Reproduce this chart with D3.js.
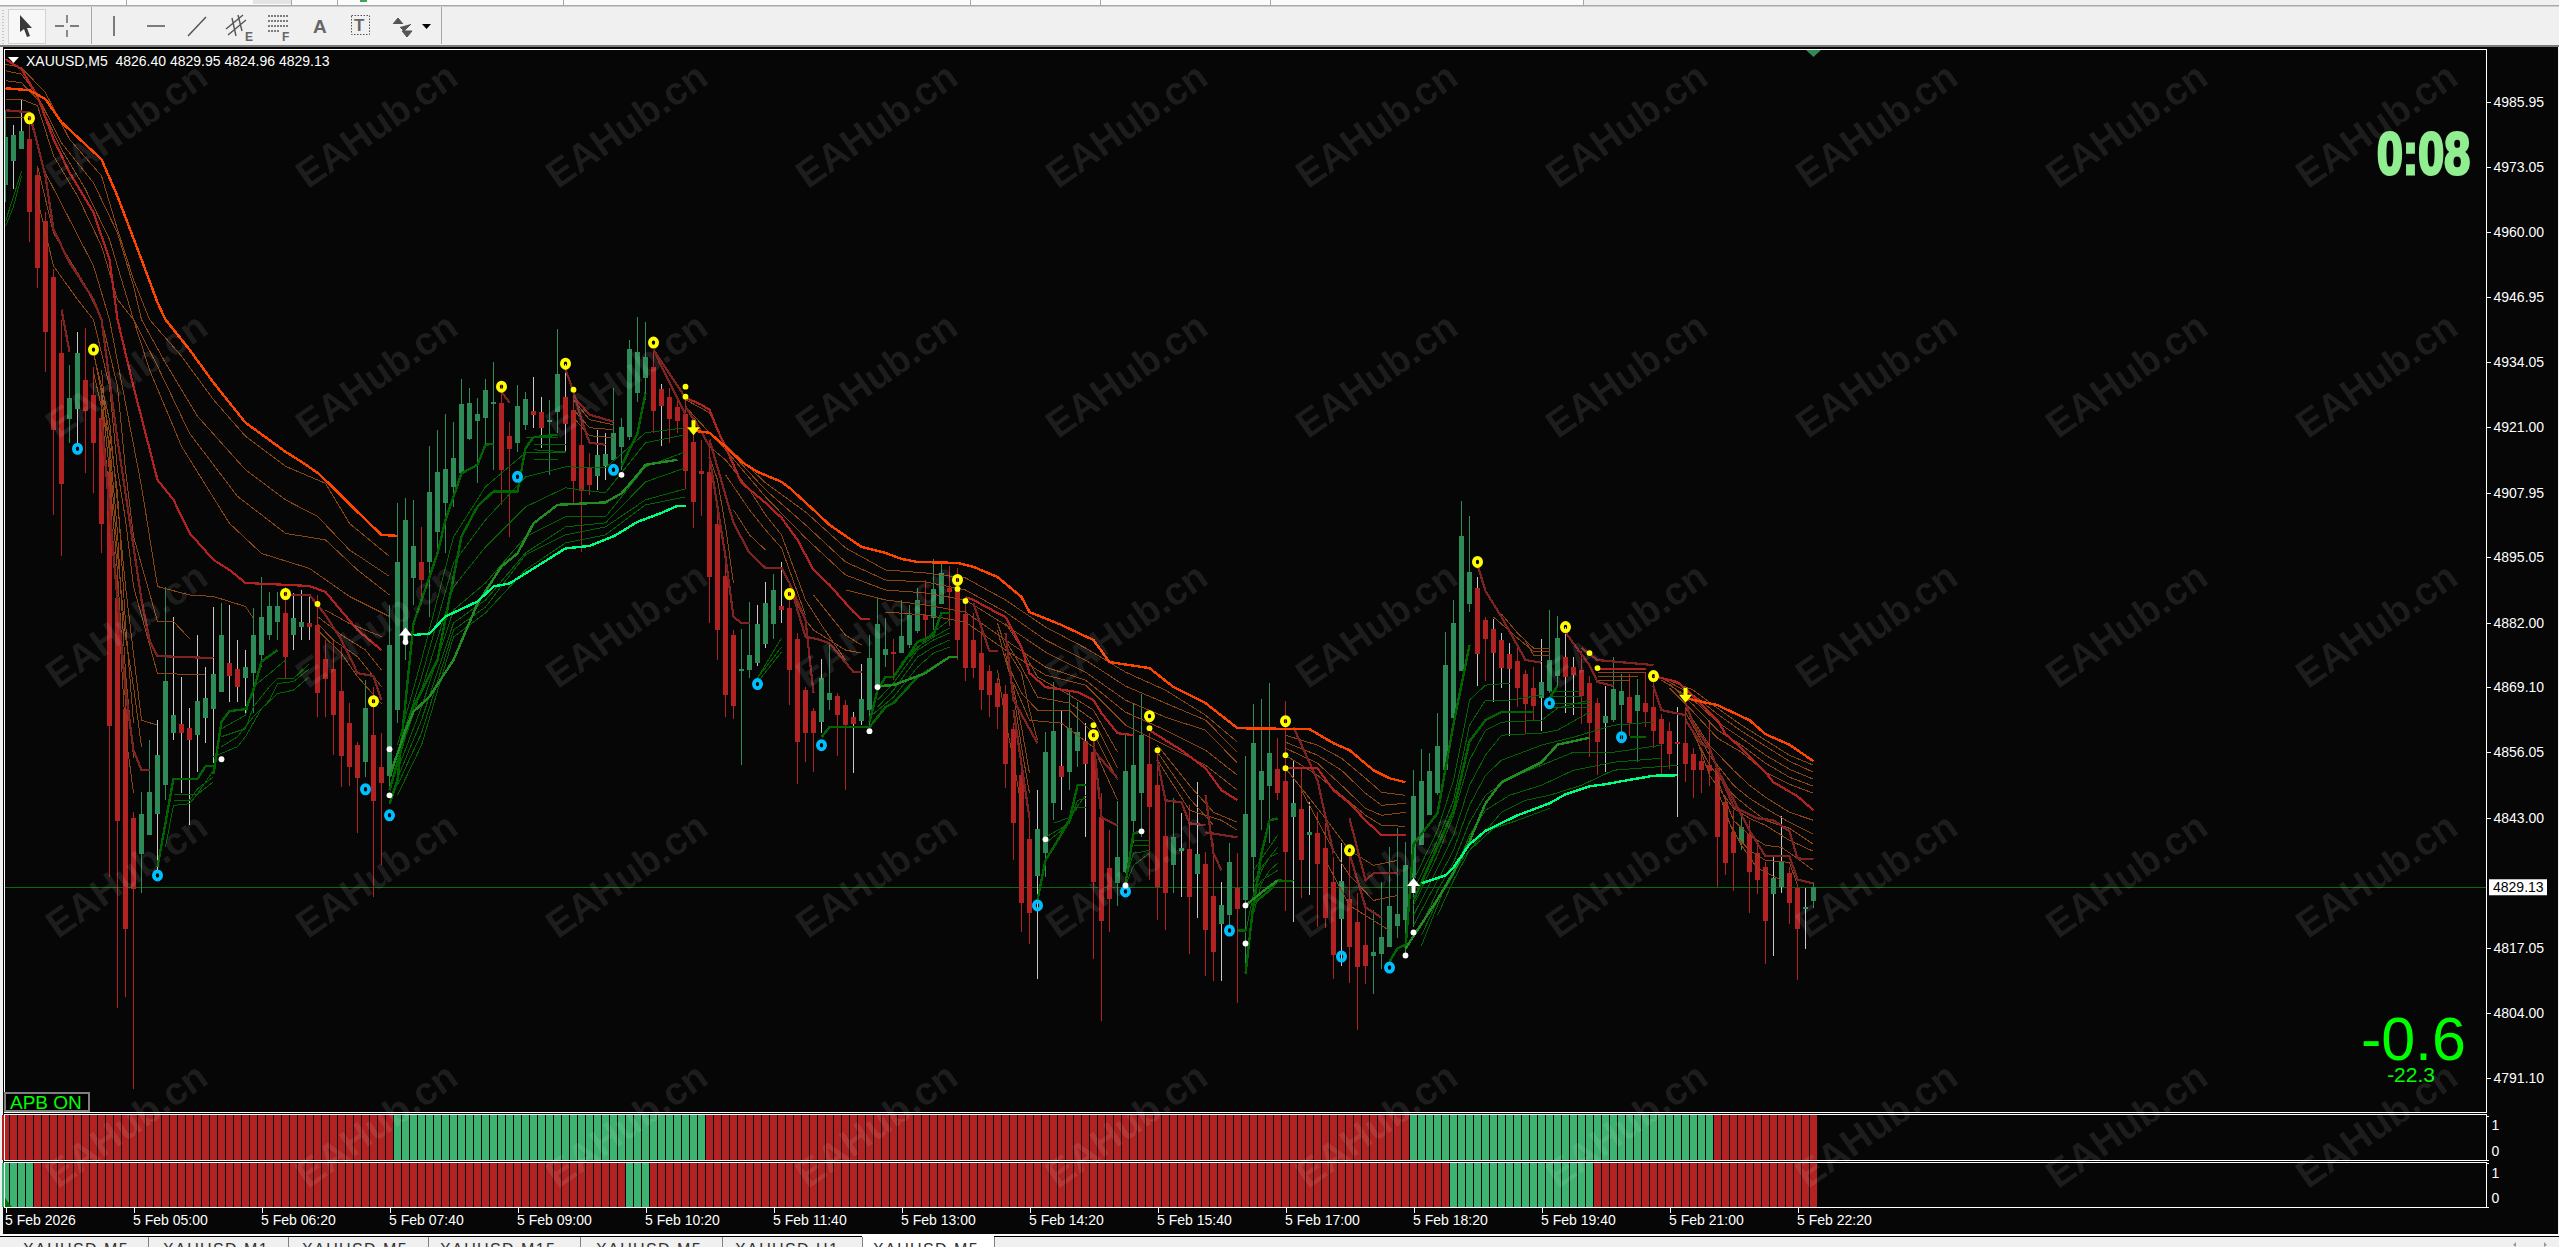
<!DOCTYPE html>
<html><head><meta charset="utf-8">
<script src="https://d3js.org/d3.v7.min.js"></script>
<style>html,body{margin:0;padding:0;background:#f0f0f0;overflow:hidden}svg{display:block}text{font-family:"Liberation Sans",Arial,sans-serif}</style>
</head><body><svg id="c" width="2559" height="1247"></svg>
<script>
// one row per 5-minute bar: open, high, low, close
const ohlc=[[4969.3,4984.1,4965.9,4978.9],[4974.1,4981.3,4968.5,4979.3],[4976.5,4986.5,4976.5,4980.1],[4978.5,4983.9,4957.9,4963.9],[4971.3,4973.1,4948.9,4952.7],[4962.1,4963.9,4932.1,4940.1],[4951.1,4952.5,4903.5,4920.5],[4935.9,4942.5,4895.3,4909.7],[4922.7,4933.5,4917.9,4926.9],[4924.7,4940.1,4917.5,4935.9],
[4930.5,4940.9,4911.9,4924.3],[4927.5,4933.1,4907.9,4917.9],[4922.9,4929.1,4895.9,4901.7],[4912.1,4915.9,4831.1,4861.3],[4886.9,4890.5,4805.1,4842.3],[4864.7,4868.5,4807.3,4820.7],[4842.9,4844.1,4788.9,4828.7],[4835.7,4848.1,4827.9,4843.7],[4839.5,4858.5,4839.5,4848.1],[4843.7,4862.5,4832.5,4855.5],
[4849.5,4889.1,4846.5,4870.3],[4859.9,4883.1,4858.5,4863.5],[4861.7,4871.1,4847.9,4859.9],[4860.9,4864.9,4841.5,4858.5],[4859.5,4879.5,4852.1,4866.3],[4862.9,4873.1,4857.9,4866.9],[4864.7,4885.1,4853.9,4871.7],[4868.1,4885.9,4868.1,4879.5],[4873.9,4885.5,4866.1,4871.3],[4872.7,4878.5,4866.1,4869.1],
[4870.9,4876.5,4863.9,4873.1],[4871.9,4884.9,4863.9,4879.5],[4875.5,4891.1,4873.1,4883.1],[4879.5,4888.1,4878.5,4885.3],[4882.1,4888.1,4878.5,4885.3],[4883.9,4889.1,4870.9,4875.1],[4879.5,4887.9,4876.5,4882.9],[4881.1,4888.5,4878.5,4882.1],[4881.9,4887.1,4878.5,4881.1],[4881.5,4887.5,4863.1,4867.9],
[4874.7,4878.5,4863.1,4870.7],[4872.7,4878.5,4855.5,4863.5],[4868.3,4877.1,4849.1,4855.3],[4861.9,4865.9,4849.3,4853.1],[4857.5,4858.1,4839.9,4850.9],[4854.1,4870.5,4851.1,4864.9],[4859.5,4869.1,4827.1,4846.3],[4853.1,4859.9,4833.5,4849.9],[4851.3,4885.5,4848.5,4877.5],[4864.5,4905.9,4861.9,4894.1],
[4878.5,4906.9,4874.5,4902.5],[4890.9,4906.5,4885.5,4897.3],[4894.1,4901.1,4885.5,4890.5],[4894.1,4917.3,4883.1,4908.1],[4900.1,4920.5,4895.9,4912.1],[4905.9,4923.7,4895.9,4912.7],[4909.1,4922.1,4905.1,4914.9],[4911.9,4930.7,4911.1,4925.7],[4918.7,4928.9,4918.5,4925.9],[4922.3,4926.9,4909.9,4923.7],
[4922.9,4930.7,4917.1,4928.5],[4925.7,4934.1,4912.5,4926.1],[4925.9,4930.1,4905.5,4912.5],[4919.3,4922.1,4899.1,4916.7],[4917.9,4929.5,4916.1,4925.3],[4921.5,4928.1,4920.5,4926.7],[4924.3,4931.1,4920.9,4923.5],[4924.1,4927.1,4916.9,4920.9],[4922.3,4926.5,4911.5,4922.5],[4924.1,4940.7,4919.9,4931.7],
[4927.1,4933.7,4916.1,4921.7],[4924.5,4928.1,4905.5,4910.3],[4917.5,4922.5,4896.1,4908.3],[4913.1,4915.9,4907.5,4909.5],[4911.3,4920.5,4908.5,4915.5],[4913.3,4919.9,4910.5,4915.7],[4914.5,4928.9,4914.5,4919.9],[4917.1,4922.9,4912.5,4921.1],[4919.1,4938.5,4918.5,4936.7],[4927.9,4943.1,4926.1,4936.1],
[4930.9,4942.1,4926.5,4935.1],[4933.1,4936.5,4919.9,4924.3],[4928.7,4929.7,4917.3,4925.3],[4927.1,4928.9,4917.9,4922.7],[4925.1,4926.5,4919.9,4922.3],[4923.7,4927.1,4908.7,4912.3],[4918.1,4919.9,4900.9,4906.1],[4912.3,4918.5,4903.3,4911.7],[4912.1,4917.9,4881.9,4891.1],[4901.7,4906.5,4874.5,4880.5],
[4891.3,4894.5,4863.1,4867.5],[4879.5,4880.5,4862.7,4865.3],[4872.3,4880.7,4853.5,4872.7],[4872.5,4886.1,4870.9,4875.5],[4873.9,4885.5,4873.3,4881.7],[4877.7,4890.1,4876.9,4885.9],[4881.7,4891.7,4878.7,4888.5],[4885.3,4894.1,4881.9,4884.5],[4884.9,4888.5,4865.5,4872.5],[4878.7,4879.9,4849.7,4858.1],
[4868.5,4869.1,4854.1,4859.9],[4864.3,4864.9,4852.1,4859.9],[4862.1,4874.7,4859.9,4870.9],[4866.5,4878.1,4864.5,4867.9],[4867.3,4867.9,4855.3,4863.5],[4865.5,4866.5,4848.5,4861.5],[4863.1,4864.1,4851.9,4861.7],[4862.3,4873.7,4861.5,4866.7],[4864.5,4879.5,4860.9,4874.9],[4869.1,4887.1,4869.1,4881.7],
[4875.5,4882.9,4873.1,4876.7],[4876.1,4878.7,4870.5,4875.9],[4875.9,4886.5,4875.9,4879.3],[4877.5,4885.5,4876.9,4883.5],[4880.3,4888.9,4879.9,4886.5],[4883.5,4890.5,4878.9,4882.5],[4882.9,4894.7,4880.5,4888.7],[4885.7,4893.7,4885.7,4891.9],[4888.9,4893.3,4881.3,4888.1],[4888.5,4892.9,4874.5,4878.5],
[4883.7,4886.5,4870.3,4872.9],[4878.5,4883.9,4870.9,4872.9],[4875.9,4881.1,4864.5,4868.5],[4872.3,4873.5,4863.1,4867.5],[4869.9,4870.9,4860.7,4865.1],[4867.7,4869.5,4848.9,4853.7],[4860.7,4861.9,4834.5,4841.9],[4851.5,4853.1,4820.1,4825.9],[4838.7,4843.1,4817.9,4823.9],[4831.3,4848.5,4810.9,4840.7],
[4835.9,4860.1,4831.1,4856.1],[4845.9,4870.1,4842.5,4860.3],[4853.3,4864.3,4844.5,4851.1],[4852.1,4868.1,4848.5,4860.9],[4856.3,4866.1,4853.1,4860.1],[4858.3,4861.9,4839.1,4853.7],[4856.1,4859.5,4814.9,4830.1],[4843.1,4847.9,4802.5,4822.3],[4832.9,4840.5,4820.1,4826.7],[4829.9,4846.3,4825.3,4835.1],
[4832.1,4859.5,4831.9,4852.3],[4842.3,4865.9,4837.9,4853.5],[4847.9,4867.7,4839.1,4859.5],[4853.7,4859.9,4830.5,4845.1],[4849.5,4856.5,4822.5,4829.1],[4839.3,4846.9,4820.5,4827.9],[4833.5,4846.9,4827.9,4839.1],[4836.3,4843.9,4827.1,4836.9],[4836.7,4845.5,4815.9,4827.1],[4831.7,4850.1,4822.9,4835.7],
[4833.7,4836.1,4811.5,4820.5],[4827.3,4837.9,4810.5,4816.3],[4821.7,4830.1,4810.5,4825.5],[4823.5,4837.9,4821.1,4834.1],[4828.9,4835.9,4806.1,4824.7],[4826.5,4855.3,4811.9,4843.7],[4835.1,4865.7,4827.9,4857.9],[4846.5,4866.7,4840.5,4852.3],[4849.3,4869.9,4837.9,4855.9],[4852.7,4858.9,4846.5,4847.9],
[4850.3,4866.3,4824.3,4836.1],[4843.1,4854.5,4822.1,4845.9],[4844.7,4853.1,4826.9,4834.5],[4839.5,4846.1,4827.5,4840.1],[4839.9,4844.1,4821.1,4833.7],[4836.9,4841.9,4820.9,4822.9],[4830.1,4835.1,4810.9,4815.7],[4822.7,4837.9,4813.5,4830.3],[4826.7,4835.1,4810.1,4817.3],[4822.1,4827.9,4800.7,4813.3],
[4817.7,4825.9,4809.9,4813.5],[4815.5,4824.5,4807.9,4816.3],[4815.9,4830.1,4812.9,4819.1],[4817.3,4837.1,4817.3,4825.3],[4821.3,4840.9,4818.9,4823.7],[4822.5,4838.1,4815.5,4833.5],[4830.9,4852.5,4821.1,4847.3],[4837.5,4856.7,4837.5,4850.3],[4843.5,4855.9,4843.5,4852.3],[4847.9,4863.9,4847.5,4857.3],
[4852.5,4880.1,4852.5,4873.5],[4862.9,4886.5,4862.9,4881.9],[4872.3,4906.3,4872.3,4899.3],[4885.7,4903.3,4884.1,4892.1],[4888.9,4891.1,4869.3,4875.7],[4882.5,4883.1,4870.3,4878.7],[4880.7,4882.7,4866.1,4875.9],[4878.5,4879.9,4868.9,4872.9],[4875.7,4877.9,4859.3,4872.7],[4874.3,4877.9,4865.1,4868.9],
[4871.7,4872.5,4859.9,4865.7],[4868.9,4873.1,4862.5,4865.3],[4866.9,4878.7,4860.3,4870.1],[4868.3,4884.5,4867.9,4874.5],[4871.3,4883.3,4868.9,4878.9],[4875.1,4881.1,4863.9,4871.1],[4873.1,4875.1,4863.5,4871.5],[4872.5,4876.3,4861.7,4867.3],[4869.9,4871.3,4855.1,4861.9],[4865.9,4866.9,4851.5,4858.1],
[4861.9,4869.3,4852.1,4863.3],[4862.5,4875.1,4862.1,4868.7],[4865.5,4871.7,4858.3,4868.3],[4867.1,4871.7,4859.3,4861.9],[4864.3,4870.7,4854.1,4867.5],[4865.9,4872.1,4861.1,4864.1],[4865.1,4870.1,4856.9,4860.3],[4862.7,4863.7,4851.7,4857.7],[4860.3,4862.1,4852.7,4855.7],[4858.1,4865.1,4843.1,4857.7],
[4857.9,4865.1,4850.1,4853.7],[4855.7,4856.9,4846.9,4852.5],[4854.3,4856.3,4847.9,4852.5],[4853.5,4862.5,4849.3,4852.3],[4852.9,4853.5,4829.1,4839.1],[4846.1,4847.3,4831.5,4833.9],[4840.1,4844.5,4828.3,4835.9],[4837.9,4843.9,4836.5,4841.1],[4839.7,4842.5,4823.9,4832.1],[4835.9,4837.7,4827.7,4830.5],
[4833.1,4834.1,4813.9,4822.3],[4827.7,4835.3,4815.5,4830.9],[4829.1,4843.3,4827.9,4834.3],[4831.9,4833.1,4821.7,4825.9],[4828.9,4829.5,4810.7,4820.7],[4824.7,4828.9,4816.9,4825.1],[4826.40,4829.95,4824.96,4829.13]];
const greyWickBars=[1,2,9,19,21,22,23,24,25,26,28,29,30,36,37,38,66,67,70,74,75,82,94,95,97,102,106,107,129,132,135,147,149,152,161,163,167,184,186,187,188,192,195,196,200,209,221,222,225];

const priceTicks=[4985.95,4973.05,4960.00,4946.95,4934.05,4921.00,4907.95,4895.05,4882.00,4869.10,4856.05,4843.00,4817.05,4804.00,4791.10];
const timeTickBars=[0,16,32,48,64,80,96,112,128,144,160,176,192,208,224];
const timeTickLabels=["5 Feb 2026","5 Feb 05:00","5 Feb 06:20","5 Feb 07:40","5 Feb 09:00","5 Feb 10:20","5 Feb 11:40","5 Feb 13:00","5 Feb 14:20","5 Feb 15:40","5 Feb 17:00","5 Feb 18:20","5 Feb 19:40","5 Feb 21:00","5 Feb 22:20"];
const lastPrice=4829.13;

// sub-window states as runs of bars: [state, number of bars]
const panelOneRuns=[[0,49],[1,39],[0,88],[1,38],[0,13]];
const panelTwoRuns=[[1,4],[0,74],[1,3],[0,100],[1,18],[0,28]];

// ribbon lines, each a flat list: bar, price, bar, price ...
const orangeLines=[
[0,4988.7,3,4988.3,5,4986.5,7,4981.9,12,4974.5,14,4967.1,17,4954.5,19,4945.9,20,4942.5,23,4936.5,26,4929.9,28,4925.9,30,4921.9,35,4916.1,37,4914.1,39,4911.9,41,4908.9,44,4904.1,47,4899.5,49,4899.3],
[86,4920.3,88,4919.9,90,4917.1,92,4914.1,94,4912.1,97,4910.1,98,4908.9,101,4904.5,103,4901.5,107,4897.1,110,4895.9,112,4894.7,114,4894.1,119,4893.9,121,4893.1,124,4891.1,127,4887.1,128,4884.1,132,4881.5,136,4878.5,138,4874.1,143,4872.9,146,4869.1,150,4865.9,154,4860.9,163,4860.7,166,4857.9,168,4856.5,171,4852.5,173,4850.9,175,4850.1],
[210,4866.9,214,4865.5,218,4862.5,220,4859.7,223,4857.6,226,4854.3]];
const redLines=[
[0,4994.5,2,4992.5,4,4987.1,6,4978.5,8,4971.9,11,4963.9,13,4954.5,14,4942.5,16,4929.1,19,4910.5,21,4906.5,23,4899.9,26,4894.5,28,4892.5,30,4889.9,38,4889.3,40,4888.1,44,4880.5,47,4876.5],
[85,4926.9,87,4925.5,88,4924.5,89,4920.5,90,4917.1,92,4909.9,95,4905.9,97,4902.9,99,4898.5,101,4892.5,103,4889.5,106,4884.1,107,4882.7,108,4882.7],
[120,4887.1,121,4886.5,124,4883.9,125,4883.1,127,4877.1,128,4871.9,130,4869.1,134,4868.1,136,4866.5,137,4863.9,139,4859.9,141,4859.5],
[143,4860.5,147,4856.5,150,4852.9,152,4848.5,154,4846.5],
[160,4852.9,164,4852.9,166,4848.5,168,4845.9,170,4842.5,172,4839.5,175,4839.5],
[206,4871.3,209,4870.1,211,4867.3,214,4862.5,215,4859.7,217,4856.9,220,4852.1,221,4850.1,224,4847.3,226,4844.5],
[199,4872.7,205,4872.7]];
const darkRedLines=[
[0,4984.3,3,4983.9,5,4971.1,6,4960.5,8,4953.9,11,4946.5,12,4942.5,14,4918.5,17,4886.5,18,4878.5,19,4875.3,26,4874.9],
[7,4944.5,8,4936.1],
[12,4922.5,14,4886.5,15,4868.5,16,4856.5,17,4852.5,18,4852.5],
[35,4887.5,38,4887.5,40,4883.5,42,4878.5,44,4871.9,46,4871.3,47,4866.5],
[62,4928.1,63,4925.9],
[70,4932.5,71,4928.1,72,4922.5,73,4917.9,75,4917.5],
[71,4927.1,73,4923.5,76,4922.1],
[81,4936.5,83,4929.9,85,4923.5],
[81,4936.5,85,4926.9],
[85,4925.1,87,4920.1,88,4917.1],
[88,4918.5,91,4901.9,93,4895.9,95,4892.9,97,4892.9,98,4889.9,100,4882.5,101,4867.9],
[98,4889.9,100,4879.1,101,4878.9,103,4877.9,106,4872.1,107,4872.1],
[88,4915.1,90,4895.1,91,4883.1,92,4881.9,93,4881.9],
[121,4885.9,123,4876.3,124,4876.3],
[125,4879.9,126,4866.5,129,4857.9],
[126,4864.5,128,4842.9],
[136,4858.5,137,4843.1,139,4841.5],
[136,4856.5,139,4850.9],
[144,4854.5,145,4846.5,147,4846.1,148,4841.9,150,4841.5],
[150,4847.5,151,4835.9,152,4832.5],
[150,4840.1,154,4839.1],
[161,4861.1,164,4850.5,166,4835.9],
[168,4842.9,170,4830.5,171,4831.9,174,4831.9],
[168,4835.9,170,4825.1,172,4823.1],
[184,4893.5,185,4888.3,187,4883.1,190,4874.5,192,4874.0],
[195,4880.0,198,4873.5,199,4870.1,201,4869.3],
[197,4876.9,199,4874.5,206,4873.5],
[206,4869.3,207,4864.5,210,4863.5],
[210,4865.9,211,4861.7,213,4856.9,214,4852.7,216,4845.3,219,4842.9,221,4842.5,223,4840.3,224,4834.9,226,4834.7],
[210,4862.5,212,4857.7,213,4856.9],
[214,4852.7,218,4840.5,220,4835.3,223,4835.3,224,4830.7,226,4829.9]];
const brownLines=[
[0,4993.5,2,4992.8,5,4987.8,8,4978.5,12,4971.2,14,4960.5,16,4950.5,18,4942.5,22,4935.2,26,4926.5,30,4919.2,35,4913.2,40,4909.8,43,4901.8,48,4895.2],
[0,4992.2,2,4991.5,4,4987.2,7,4977.8,11,4969.8,14,4959.8,16,4949.2,17,4942.5,20,4933.8,24,4923.2,30,4912.5,35,4906.5,39,4903.2,43,4896.5,48,4891.2],
[0,4990.2,2,4989.8,4,4986.5,7,4976.5,10,4968.5,13,4958.5,15,4947.8,16,4942.5,19,4933.2,23,4919.8,29,4907.2,35,4899.8,40,4898.5,44,4892.5,48,4887.5],
[0,4986.5,2,4986.5,4,4985.2,6,4975.2,9,4967.2,12,4957.2,14,4946.5,16,4942.5,18,4932.5,22,4917.2,28,4901.8,32,4895.8,38,4892.8,43,4887.2,48,4883.2],
[0,4982.8,3,4982.8,5,4971.8,8,4962.5,11,4953.2,13,4942.5,15,4925.8,17,4909.2,19,4889.2,23,4887.5,26,4887.2,30,4885.2,31,4882.8],
[4,4973.2,6,4959.8,10,4949.2,12,4942.5,14,4929.2,15,4912.5,16,4899.2,19,4882.2,21,4882.2,23,4878.8],
[4,4966.5,6,4953.2,9,4946.5,11,4942.5,13,4929.2,14,4912.5,15,4902.5,16,4889.2,19,4871.8,25,4871.6],
[11,4935.8,13,4922.5,14,4905.8,15,4889.2,16,4875.8,17,4862.5,19,4861.5],
[12,4932.5,13,4915.8,14,4895.8,15,4879.2,16,4869.2,17,4857.2],
[11,4936.0,13,4920.0,14,4908.0,15,4882.0,16,4862.0],
[11,4932.0,13,4918.0,14,4900.0,15,4872.0,16,4855.0],
[12,4928.0,13,4912.0,14,4892.0,15,4866.0],
[12,4925.0,14,4888.0,15,4860.0,16,4848.0],
[40,4884.5,43,4881.8,47,4879.2],
[39,4883.2,42,4879.5,45,4876.5,47,4872.5],
[39,4881.8,41,4878.5,44,4875.2,47,4869.2],
[39,4880.5,42,4875.8,44,4871.2,47,4865.8],
[71,4926.5,73,4922.5,76,4921.5],
[71,4924.5,73,4920.9,76,4920.5],
[71,4922.9,73,4919.3,76,4918.9],
[85,4926.5,88,4923.9,90,4917.1],
[85,4925.1,88,4919.9,90,4916.5],
[86,4923.1,88,4917.1,90,4914.5],
[88,4915.1,89,4910.5,90,4901.1,91,4889.9],
[90,4914.5,93,4908.5,95,4903.5,97,4899.5,100,4886.5,102,4881.5,105,4874.5],
[90,4911.5,93,4904.5,95,4900.5,97,4896.9,100,4883.5],
[91,4904.5,93,4899.5,95,4896.5],
[98,4888.5,100,4882.5,101,4880.5,103,4878.5,105,4876.5,107,4875.9],
[101,4887.5,103,4883.5,105,4879.5,107,4877.5],
[90,4917.5,95,4909.9,100,4904.1,105,4896.9,110,4892.5,115,4891.9,120,4890.9,125,4886.5,130,4881.1,135,4876.9,140,4872.1,145,4868.5,150,4863.5,154,4858.1],
[90,4917.1,95,4908.5,100,4901.5,105,4894.1,110,4890.5,115,4890.1,120,4888.5,125,4884.1,130,4878.5,135,4874.5,140,4869.3,145,4865.9,150,4862.5,154,4856.1],
[90,4916.5,95,4907.1,100,4898.9,105,4891.5,110,4888.5,115,4887.9,120,4886.5,125,4881.5,130,4876.1,135,4872.1,140,4866.5,145,4863.1,150,4860.5,154,4853.9],
[105,4888.5,110,4886.5,115,4885.5,120,4884.1,125,4878.5,130,4873.1,135,4870.5,140,4864.1,145,4860.5,150,4856.5,154,4851.5],
[110,4884.1,115,4883.5,120,4882.1,125,4876.5,130,4871.5,135,4869.5,140,4861.5,145,4857.5,150,4853.5,154,4848.5],
[124,4881.9,125,4877.1,127,4871.9,128,4864.5,129,4858.5],
[124,4880.5,125,4874.5,126,4869.1,127,4861.1,128,4851.9],
[125,4875.9,126,4867.9,127,4857.1,128,4847.9],
[124,4872.5,125,4862.5,126,4854.5,127,4845.1],
[125,4881.9,127,4876.9,129,4871.1,133,4867.5,136,4864.5,139,4856.1],
[125,4878.5,127,4873.1,129,4867.1,133,4865.9,136,4862.5,139,4852.9],
[125,4874.5,127,4867.9,129,4864.5,133,4864.5,136,4859.9,139,4850.5],
[126,4869.9,128,4862.5,132,4861.9,136,4857.1,139,4846.5],
[144,4857.5,148,4849.5,151,4844.1,154,4842.1],
[144,4854.5,148,4844.5,152,4842.5,154,4840.5],
[144,4856.1,146,4851.5,148,4846.9,151,4841.5],
[160,4859.5,164,4857.5,167,4854.9,170,4850.9,172,4848.1,175,4847.5],
[160,4858.1,164,4855.5,167,4852.5,170,4847.9,172,4845.5,175,4845.9],
[160,4856.9,164,4853.9,167,4849.5,170,4844.9,172,4843.5,175,4844.1],
[160,4855.5,164,4851.5,167,4847.5,170,4843.5,172,4841.5,175,4841.3],
[160,4852.9,165,4842.9,168,4836.5,171,4833.5,174,4834.5],
[162,4848.5,166,4836.5,168,4831.5,171,4826.5,174,4827.5],
[165,4834.5,168,4825.5,170,4823.5,173,4820.5],
[187,4883.7,189,4879.9,191,4876.9,193,4876.9],
[186,4883.1,189,4878.9,191,4876.2,193,4876.2],
[190,4878.3,191,4875.5,193,4875.5],
[199,4872.1,205,4872.1],[199,4871.3,204,4871.3],[199,4870.5,203,4870.5],
[207,4871.1,211,4868.5,214,4864.9,217,4861.5,220,4858.5,223,4855.5,226,4853.5],
[207,4870.9,211,4867.5,214,4863.7,217,4860.3,220,4857.3,223,4854.3,226,4852.1],
[207,4870.5,211,4866.5,214,4862.1,217,4858.9,220,4855.5,223,4852.7,226,4850.7],
[208,4869.7,211,4865.5,214,4860.5,217,4857.5,220,4853.9,223,4851.1,226,4849.3],
[208,4868.9,211,4864.1,214,4858.9,217,4856.1,220,4852.1,223,4849.7,226,4847.9],
[210,4864.9,213,4857.5,216,4852.5,218,4849.5,220,4847.1,223,4844.1,226,4842.5],
[210,4864.1,213,4855.5,216,4849.5,218,4846.9,220,4844.9,223,4842.1,226,4839.7],
[210,4862.9,213,4853.5,216,4847.5,218,4844.9,220,4842.5,223,4840.9,226,4837.7],
[211,4860.5,213,4851.5,216,4844.9,218,4842.9,220,4841.5,223,4838.5,226,4836.3],
[214,4850.5,216,4842.5,218,4839.5,220,4837.5,222,4837.1,224,4834.9,226,4832.5],
[214,4848.5,216,4839.9,218,4836.5,220,4834.5,223,4834.1,224,4829.5],
[215,4843.5,217,4837.5,219,4832.9,222,4830.5]];
const brightGreenLines=[
[51,4879.5,53,4879.8,55,4883.2,59,4886.2,61,4889.2,63,4889.8,66,4892.8,70,4896.8,73,4897.3,76,4899.2,79,4902.1,82,4903.9,84,4905.3,85,4905.3],
[177,4829.9,180,4831.5,181,4833.1,183,4837.7,185,4840.4,189,4843.5,193,4845.9,195,4847.7,198,4849.3,200,4849.7,202,4850.3,206,4851.4,209,4851.5]];
const midGreenLines=[
[48,4851.2,50,4860.5,51,4864.2,53,4867.2,56,4874.5,59,4885.8,62,4893.2,64,4895.8,66,4901.8,69,4905.5,75,4906.0,77,4907.8,79,4911.5,80,4913.5,84,4914.5],
[109,4869.3,111,4869.5,115,4871.9,117,4874.1,118,4875.1,119,4875.1],
[155,4825.5,157,4828.1,159,4830.5],
[175,4816.9,179,4826.7,181,4832.1,183,4838.3,185,4845.9,187,4850.1,192,4854.1,194,4857.6,198,4859.0]];
const thickGreenLines=[
[19,4833.2,21,4850.8,24,4850.8,25,4853.3,26,4853.3],
[26,4851.8,27,4862.2,28,4864.3,30,4864.7,31,4868.5,32,4874.2,34,4876.5],
[48,4845.8,49,4850.5,51,4881.8,54,4895.8,55,4902.5,57,4911.8,59,4913.5,60,4917.5,61,4917.7],
[48,4848.5,51,4865.2,54,4874.5,57,4899.2,59,4905.2,61,4908.2,64,4908.2,65,4916.8,66,4919.0,69,4919.5],
[77,4913.2,79,4919.8,80,4927.9],
[102,4859.1,103,4861.1,108,4861.1],
[108,4862.1,109,4868.5,110,4871.1,111,4871.1,114,4878.1,116,4879.5,117,4883.9,118,4883.9],
[108,4861.1,110,4865.1,111,4865.9,114,4871.1,116,4873.1,118,4875.1],
[129,4826.5,130,4834.5,131,4837.1,133,4842.5,134,4849.5,135,4849.5],
[140,4829.9,141,4839.9,142,4840.3],
[155,4811.9,156,4825.9,158,4828.5,159,4830.5,161,4830.3],
[154,4820.5,155,4820.5],
[156,4825.5,157,4835.9,158,4842.5,159,4842.9],
[175,4816.9,176,4837.7,179,4843.9,181,4861.7,183,4877.5],
[173,4814.3,174,4816.9,175,4817.7],
[176,4826.5,181,4844.5,183,4858.3,185,4862.5,187,4864.1,191,4864.1],
[193,4866.9,194,4869.3],
[203,4859.1,205,4859.1]];
const thinGreenLines=[
[0,4961.1,1,4965.1,2,4971.1],[0,4962.1,2,4972.1],
[20,4837.2,21,4845.5,23,4845.8,24,4847.8,26,4852.5],
[21,4846.5,23,4846.5,24,4848.8,26,4851.2],
[21,4847.7,24,4847.7,26,4850.2],
[26,4855.2,29,4857.2,30,4859.2,32,4864.8,34,4867.8,36,4868.5,38,4871.2],
[27,4857.2,29,4859.2,31,4863.2,33,4866.5,34,4869.8,36,4870.2,38,4872.8],
[27,4859.2,30,4860.8,31,4865.2,33,4869.2,34,4870.8,36,4870.8,38,4873.8],
[27,4860.8,30,4863.5,31,4869.2,33,4871.8,35,4874.5],
[49,4857.5,52,4874.5,56,4899.1,60,4909.1,65,4915.9,70,4915.9],
[49,4856.1,52,4871.1,56,4893.9,60,4902.5,65,4911.1,70,4913.1,75,4912.9,80,4919.9,85,4920.9],
[49,4854.5,52,4868.5,56,4889.1,60,4897.1,65,4905.1,70,4908.9,75,4907.9,80,4917.9,85,4919.5],
[49,4852.5,52,4865.1,56,4884.5,60,4889.9,65,4899.1,70,4903.1,75,4903.1,80,4913.1,85,4916.1],
[49,4850.9,52,4862.5,56,4881.9,60,4886.5,65,4895.9,70,4901.1,75,4901.9,80,4910.1,85,4912.9],
[49,4849.5,52,4859.9,56,4880.5,60,4885.1,65,4895.5,70,4899.5,75,4901.1,80,4906.5,85,4908.7],
[49,4847.5,52,4857.5,56,4879.1,60,4883.9,65,4892.5,70,4897.9,75,4899.5,80,4905.5,85,4907.1],
[65,4919.0,69,4919.0],[66,4917.5,70,4917.5],[66,4916.5,70,4916.1],[66,4914.5,69,4914.5],
[94,4870.9,97,4878.9],[94,4870.9,97,4877.1],[94,4870.1,97,4876.1],
[108,4863.1,111,4867.1,114,4873.1,116,4875.9,118,4877.1],
[109,4865.1,111,4868.5,114,4875.1,116,4877.1,118,4878.5],
[109,4866.5,111,4869.9,114,4876.5,116,4878.5,118,4879.9],
[112,4873.9,114,4877.1,116,4879.1,118,4880.9],
[113,4875.1,115,4878.5,116,4880.1,118,4882.5],
[131,4841.9,133,4843.1,135,4847.5],
[130,4839.1,133,4841.9,134,4846.5,135,4846.9],
[130,4837.9,132,4840.5,134,4845.1,135,4845.1],
[140,4831.1,141,4835.9,143,4836.5],
[141,4837.5,143,4837.5],[141,4838.5,143,4838.5],
[140,4829.5,141,4833.5,143,4835.9],
[155,4819.9,156,4827.9,157,4830.5,159,4832.5],
[156,4823.9,157,4829.9,158,4832.5,159,4833.9],
[156,4827.9,157,4832.5,158,4835.1,159,4835.9],
[156,4829.9,157,4833.1,159,4837.1],
[156,4832.5,159,4839.5],
[176,4830.5,179,4840.5,181,4850.5,183,4866.5,185,4869.5,188,4869.9],
[176,4828.5,179,4838.5,181,4846.5,183,4861.5,185,4866.5,188,4866.5,192,4867.5],
[176,4825.5,179,4835.5,181,4843.5,183,4854.5,185,4860.5,187,4862.1,192,4862.5,194,4864.9,198,4866.5],
[176,4823.5,179,4832.9,181,4839.5,183,4849.5,185,4855.5,187,4859.5,192,4859.9,194,4860.5,198,4864.1],
[176,4821.5,179,4830.5,181,4836.5,183,4845.5,185,4851.5,187,4854.5,192,4857.5,196,4859.1,201,4861.5,206,4862.1],
[177,4821.5,179,4828.5,181,4834.1,183,4842.1,185,4847.5,188,4850.9,192,4853.5,196,4856.1,201,4856.1,207,4857.5],
[177,4819.5,179,4826.5,181,4831.5,183,4839.5,185,4844.5,188,4847.5,192,4849.5,196,4852.5,201,4854.1,207,4854.9],
[177,4817.5,180,4829.5,182,4834.5,184,4838.5,187,4844.1,190,4846.5,193,4847.5,197,4849.5,201,4852.5,209,4853.5],
[179,4823.5,181,4830.5,183,4836.5,186,4840.9,189,4842.5,193,4844.9],
[193,4868.3,197,4868.3],[193,4867.3,197,4867.3],[193,4865.9,198,4865.9],[193,4865.1,198,4865.1]];

// signal markers, flat lists: bar, price
const yellowRings=[3,4982.7,11,4936.5,35,4887.7,46,4866.3,62,4929.1,70,4933.7,81,4937.9,98,4887.7,119,4890.5,136,4859.5,143,4863.3,160,4862.3,168,4836.5,184,4894.1,195,4881.1,206,4871.3];
const blueRings=[9,4916.7,19,4831.5,45,4848.7,48,4843.5,64,4911.1,76,4912.5,94,4869.7,102,4857.5,129,4825.5,140,4828.3,153,4820.5,167,4815.3,173,4813.1,193,4865.9,202,4859.1];
const yellowDots=[39,4885.7,71,4928.5,85,4929.1,85,4927.1,119,4888.7,120,4886.3,136,4861.5,143,4860.9,144,4856.5,160,4855.5,160,4852.9,198,4875.9,199,4872.9];
const whiteDots=[27,4854.7,48,4856.7,48,4847.5,50,4878.1,77,4911.5,108,4860.3,109,4869.1,130,4838.7,140,4829.5,142,4840.3,155,4825.5,155,4817.9,175,4815.5,176,4820.1];
const upArrows=[50,4879.5,176,4829.5];
const downArrows=[86,4920.9,210,4867.5];

const tabLabels=["XAUUSD,M5","XAUUSD,M1","XAUUSD,M5","XAUUSD,M15","XAUUSD,M5","XAUUSD,H1","XAUUSD,M5"];

const W=2559,H=1247;
const svg=d3.select("#c");
const RED="#b22222",GREEN="#2e8b57",PANELGREEN="#3cb371";
const chunk=a=>{const o=[];for(let k=0;k<a.length;k+=2)o.push([a[k],a[k+1]]);return o;};

const x=d3.scaleLinear().domain([0,226]).range([5.5,1813.5]);
const y=d3.scaleLinear().domain([4985.95,4791.10]).range([102,1077.7]);
const s1=d3.scaleLinear().domain([0,1]).range([1159.5,1115]);
const s2=d3.scaleLinear().domain([0,1]).range([1206.5,1163]);

// window chrome
svg.append("rect").attr("width",W).attr("height",H).attr("fill","#f0f0f0");
svg.append("rect").attr("x",0).attr("y",0).attr("width",1583).attr("height",5).attr("fill","#fbfbfb");
[126,291,337,563,970,1100,1270,1583].forEach(v=>svg.append("rect").attr("x",v).attr("y",0).attr("width",1).attr("height",5).attr("fill","#a8a8a8"));
svg.append("rect").attr("x",253).attr("y",0).attr("width",38).attr("height",4).attr("fill","#e4e4e4");
svg.append("rect").attr("x",360).attr("y",0).attr("width",7).attr("height",2).attr("fill","#3aa655");
svg.append("rect").attr("x",0).attr("y",5).attr("width",W).attr("height",1.5).attr("fill","#a9a9a9");
svg.append("rect").attr("x",3).attr("y",46).attr("width",2555).attr("height",1188).attr("fill","#060606");
svg.append("rect").attr("x",0).attr("y",45).attr("width",W).attr("height",2).attr("fill","#7a7a7a");

// toolbar
const tb=svg.append("g").attr("stroke","#555").attr("fill","none");
tb.append("rect").attr("x",8.5).attr("y",9.5).attr("width",37).attr("height",34).attr("fill","#f7f7f7").attr("stroke","#d2d2d2");
[91.5,441.5].forEach(v=>tb.append("line").attr("x1",v).attr("x2",v).attr("y1",7).attr("y2",44).attr("stroke","#a8a8a8"));
tb.append("path").attr("d","M20 15 L32 28 L27 28 L30 36 L27 37 L24 29 L20 32Z").attr("fill","#3a3a3a").attr("stroke","none");
tb.append("path").attr("d","M67 15V23M67 30V37M55 26H64M70 26H79").attr("stroke-width",1.3);
tb.append("path").attr("d","M114 16V36").attr("stroke-width",1.5);
tb.append("path").attr("d","M147 26H165").attr("stroke-width",1.5);
tb.append("path").attr("d","M188 36L206 17").attr("stroke-width",1.5);
tb.append("path").attr("d","M226 29L243 15M228 35L246 20M232 18L236 36M238 15L242 31").attr("stroke-width",1.4);
tb.append("path").attr("d","M268 16H289M268 21H289M268 26H289M268 31H280").attr("stroke-dasharray","2 1").attr("stroke-width",1.5);
tb.append("rect").attr("x",351.5).attr("y",15.5).attr("width",18).attr("height",19).attr("stroke-dasharray","1.5 1.5");
tb.append("path").attr("d","M393 24L398 18L403 24M398 18V24M402 31L407 37L412 31ZM400 27L404 31L411 24").attr("fill","#555").attr("stroke-width",1);
tb.append("path").attr("d","M422 24H431L426.5 29Z").attr("fill","#000").attr("stroke","none");
tb.append("path").attr("d","M3 10V44").attr("stroke","#9a9a9a").attr("stroke-dasharray","1 2");
const tbt=svg.append("g").attr("fill","#666").attr("font-weight","bold");
tbt.append("text").attr("x",245).attr("y",41).attr("font-size",12).text("E");
tbt.append("text").attr("x",282).attr("y",41).attr("font-size",12).text("F");
tbt.append("text").attr("x",313).attr("y",33).attr("font-size",19).text("A");
tbt.append("text").attr("x",354).attr("y",31).attr("font-size",17).text("T");

// panes
svg.append("defs").append("clipPath").attr("id","main").append("rect").attr("x",5).attr("y",50).attr("width",2481).attr("height",1062);
const pane=svg.append("g").attr("clip-path","url(#main)");

// current price line
pane.append("line").attr("x1",5).attr("x2",2486).attr("y1",Math.round(y(lastPrice))+.5).attr("y2",Math.round(y(lastPrice))+.5).attr("stroke","#0a6b0a");

// candles
const greySet=new Set(greyWickBars);
const candles=pane.append("g").attr("shape-rendering","crispEdges");
candles.selectAll("rect.w").data(ohlc).join("rect").attr("class","w")
 .attr("x",(d,i)=>Math.floor(x(i))).attr("width",1)
 .attr("y",d=>y(d[1])).attr("height",d=>Math.max(1,y(d[2])-y(d[1])))
 .attr("fill",(d,i)=>greySet.has(i)?"#c8c8c8":(d[3]>=d[0]?GREEN:RED));
candles.selectAll("rect.b").data(ohlc).join("rect").attr("class","b")
 .attr("x",(d,i)=>Math.floor(x(i))-2).attr("width",5)
 .attr("y",d=>y(Math.max(d[0],d[3]))).attr("height",d=>Math.max(2,Math.abs(y(d[0])-y(d[3]))))
 .attr("fill",d=>d[3]>=d[0]?GREEN:RED);

// ribbons: aliased like the terminal's own line drawing
const line=d3.line().x(d=>x(d[0])).y(d=>y(d[1]));
function ribbon(list,color,w){
 pane.append("g").attr("fill","none").attr("stroke",color).attr("stroke-width",w).attr("stroke-linejoin","round").attr("shape-rendering","crispEdges")
  .selectAll("path").data(list.map(chunk)).join("path").attr("d",line);
}
ribbon(brownLines,"#8b4513",1);
ribbon(thinGreenLines,"#006400",1);
ribbon(thickGreenLines,"#006400",2.4);
ribbon(midGreenLines,"#228b22",2.4);
ribbon(darkRedLines,"#7e2222",2.2);
ribbon(redLines,"#b22222",2.2);
ribbon(orangeLines,"#ff4500",2.4);
ribbon(brightGreenLines,"#00ff7f",2.4);

// markers
const ring=(list,color)=>pane.append("g").selectAll("ellipse").data(chunk(list)).join("ellipse")
 .attr("cx",d=>x(d[0])).attr("cy",d=>y(d[1])).attr("rx",3.6).attr("ry",4.1).attr("fill","none").attr("stroke",color).attr("stroke-width",3.8);
ring(yellowRings,"#ffff00");ring(blueRings,"#00bfff");
const dot=(list,color)=>pane.append("g").selectAll("circle").data(chunk(list)).join("circle")
 .attr("cx",d=>x(d[0])).attr("cy",d=>y(d[1])).attr("r",2.9).attr("fill",color);
dot(yellowDots,"#ffff00");dot(whiteDots,"#ffffff");
pane.append("g").selectAll("path").data(chunk(upArrows)).join("path")
 .attr("transform",d=>`translate(${x(d[0])},${y(d[1])})`).attr("d","M0 -7.5L6.5 0.5L2 0.5L2 7.5L-2 7.5L-2 0.5L-6.5 0.5Z").attr("fill","#fff");
pane.append("g").selectAll("path").data(chunk(downArrows)).join("path")
 .attr("transform",d=>`translate(${x(d[0])},${y(d[1])})`).attr("d","M0 7.5L6.5 -0.5L2 -0.5L2 -7.5L-2 -7.5L-2 -0.5L-6.5 -0.5Z").attr("fill","#ff0");

// header text
svg.append("path").attr("d","M8 57H19L13.5 63Z").attr("fill","#fff");
svg.append("text").attr("x",26).attr("y",66).attr("fill","#fff").attr("font-size",14).attr("xml:space","preserve").text("XAUUSD,M5  4826.40 4829.95 4824.96 4829.13");
svg.append("path").attr("d","M1806 50H1821L1813.5 57Z").attr("fill","#2e8b57");

// sub-window bars
function runsToBars(runs){const o=[];runs.forEach(r=>{for(let k=0;k<r[1];k++)o.push(r[0]);});return o;}
function subPanel(runs,scale){
 svg.append("g").attr("shape-rendering","crispEdges").selectAll("rect").data(runsToBars(runs)).join("rect")
  .attr("x",(d,i)=>Math.floor(x(i))-3).attr("width",7)
  .attr("y",scale(1)).attr("height",scale(0)-scale(1))
  .attr("fill",d=>d?PANELGREEN:RED);
}
subPanel(panelOneRuns,s1);subPanel(panelTwoRuns,s2);
svg.append("path").attr("d","M5 1198L12 1207H5Z").attr("fill","#0a6a0a");

// frames
const fr=svg.append("g").attr("fill","none").attr("stroke","#fff").attr("shape-rendering","crispEdges");
fr.append("path").attr("d","M4.5 49.5H2486.5V1112.5H4.5Z");
fr.append("path").attr("d","M4.5 1114.5H2486.5V1160.5H4.5Z");
fr.append("path").attr("d","M4.5 1162.5H2486.5V1207.5H4.5Z");

// axes
const yAxis=svg.append("g").attr("transform","translate(2486.5,0)").call(d3.axisRight(y).tickValues(priceTicks).tickFormat(d3.format(".2f")).tickSize(4).tickPadding(3));
const xAxis=svg.append("g").attr("transform","translate(0,1207.5)").call(d3.axisBottom(x).tickValues(timeTickBars).tickFormat((d,i)=>timeTickLabels[i]).tickSize(5).tickPadding(3));
const lab1=d3.scaleLinear().domain([0,1]).range([1151,1125]);
const lab2=d3.scaleLinear().domain([0,1]).range([1198,1173]);
[lab1,lab2].forEach(s=>svg.append("g").attr("transform","translate(2486.5,0)").call(d3.axisRight(s).tickValues([0,1]).tickFormat(d3.format("d")).tickSize(0).tickPadding(5)));
svg.selectAll(".domain").remove();
svg.selectAll(".tick line").attr("stroke","#fff").attr("shape-rendering","crispEdges");
svg.selectAll(".tick text").attr("fill","#fff").attr("font-size",14).attr("font-family",'"Liberation Sans",Arial,sans-serif');
xAxis.selectAll(".tick text").attr("text-anchor","start").attr("dx",-1);
[1116,1160,1163,1207].forEach(v=>svg.append("rect").attr("x",2487).attr("y",v).attr("width",2).attr("height",1).attr("fill","#fff"));

// last price tag
svg.append("rect").attr("x",2489).attr("y",y(lastPrice)-8).attr("width",58).attr("height",16).attr("fill","#fff");
svg.append("text").attr("x",2493).attr("y",y(lastPrice)+5).attr("font-size",14).attr("fill","#000").text(d3.format(".2f")(lastPrice));

// on-chart labels
svg.append("text").attr("transform","translate(2377,174) scale(.775,1)").attr("font-size",60).attr("font-weight","bold").attr("fill","#90ee90").attr("stroke","#90ee90").attr("stroke-width",3).text("0:08");
svg.append("text").attr("x",2466).attr("y",1060).attr("text-anchor","end").attr("font-size",61).attr("fill","#00ff00").text("-0.6");
svg.append("text").attr("x",2435).attr("y",1082).attr("text-anchor","end").attr("font-size",21).attr("fill","#00ff00").text("-22.3");
svg.append("rect").attr("x",5).attr("y",1093).attr("width",84).attr("height",18).attr("fill","#000").attr("stroke","#808080").attr("stroke-width",2);
svg.append("text").attr("x",10).attr("y",1109).attr("font-size",19).attr("fill","#00ff00").text("APB ON");

// bottom tabs
svg.append("rect").attr("x",0).attr("y",1234).attr("width",W).attr("height",2).attr("fill","#fff");
svg.append("rect").attr("x",0).attr("y",1236).attr("width",W).attr("height",1).attr("fill","#000");
svg.append("rect").attr("x",0).attr("y",1237).attr("width",W).attr("height",10).attr("fill","#f0f0f0");
const tabs=[23,163,302,440,596,735,873];
svg.append("rect").attr("x",862).attr("y",1236).attr("width",132).attr("height",11).attr("fill","#fff");
[148,288,428,580,722,862,994].forEach(v=>svg.append("rect").attr("x",v).attr("y",1237).attr("width",1).attr("height",10).attr("fill","#808080"));
svg.selectAll("text.tab").data(tabLabels).join("text").attr("class","tab").attr("x",(d,i)=>tabs[i]).attr("y",1254.5).attr("font-size",16).attr("letter-spacing",1.4).attr("fill","#333").text(d=>d);
svg.append("path").attr("d","M2513 1245L2516 1242V1247ZM2544 1242L2547 1245L2544 1247Z").attr("fill","#999");

// watermark
const wm=svg.append("g").attr("fill","rgba(255,255,255,0.095)").attr("font-weight","bold").attr("font-size",39).attr("text-anchor","middle");
d3.range(5).forEach(r=>d3.range(10).forEach(c=>{
 wm.append("text").attr("transform",`translate(${134+250*c},${123+250*r+13}) rotate(-35)`).text("EAHub.cn");
}));
</script></body></html>
